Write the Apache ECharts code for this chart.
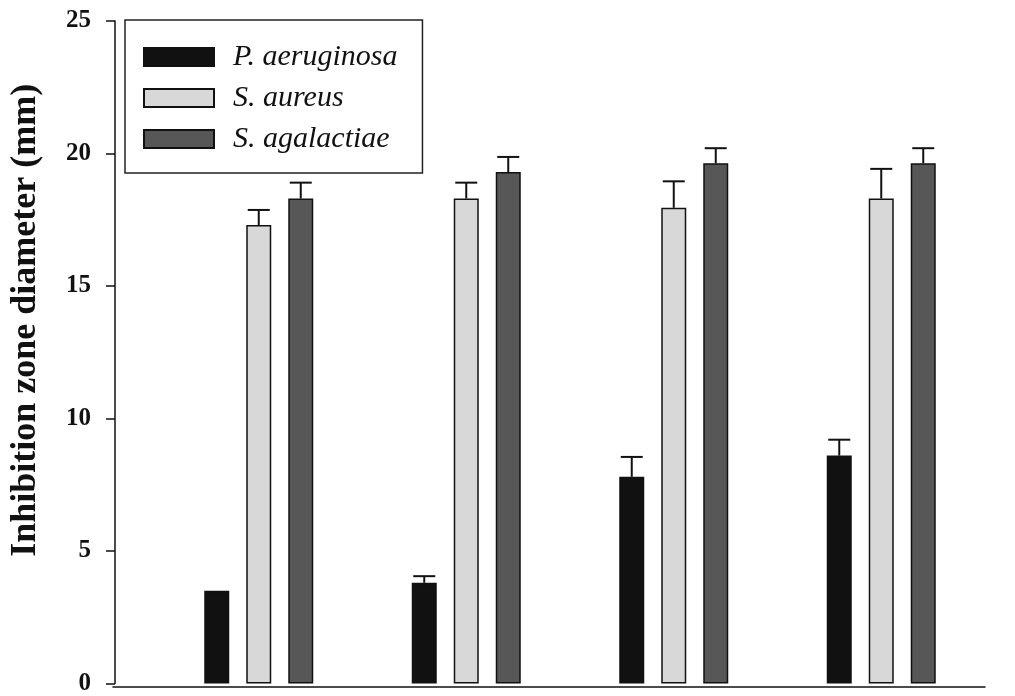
<!DOCTYPE html>
<html>
<head>
<meta charset="utf-8">
<script src="https://cdn.jsdelivr.net/npm/echarts@6/dist/echarts.min.js"></script>
<style>
  html, body { margin: 0; padding: 0; background: #fff; }
  #main { width: 1015px; height: 696px; }
</style>
</head>
<body>
<div id="main"></div>
<script>
// four sample groups (no x labels in the original)
const groups = ['1', '2', '3', '4']
const seriesNames = ['P. aeruginosa', 'S. aureus', 'S. agalactiae']

// mean inhibition zone diameter (mm)
const paeruginosa = [3.5, 3.8, 7.8, 8.6]
const saureus = [17.3, 18.3, 17.95, 18.3]
const sagalactiae = [18.3, 19.3, 19.63, 19.63]

// upper error (SD)
const paeruginosaErr = [0, 0.25, 0.75, 0.6]
const saureusErr = [0.57, 0.6, 1.0, 1.12]
const sagalactiaeErr = [0.6, 0.57, 0.57, 0.57]

const yTicks = [0, 5, 10, 15, 20, 25]

const BAR_W = 25
const BAR_GAP = 17
const serif = '"Liberation Serif", "DejaVu Serif", serif'

const chart = echarts.init(document.getElementById('main'))

const fills = ['#111111', '#d8d8d8', '#575757']
const values = [paeruginosa, saureus, sagalactiae]
const errs = [paeruginosaErr, saureusErr, sagalactiaeErr]

function errSeries(k) {
  const off = (k - 1) * (BAR_W + BAR_GAP)
  return {
    type: 'custom',
    name: 'err' + k,
    xAxisIndex: 0,
    yAxisIndex: 0,
    z: 5,
    silent: true,
    encode: { x: 0, y: [1, 2] },
    data: values[k].map((v, i) => [i, v, v + errs[k][i]]),
    renderItem: function (params, api) {
      if (api.value(2) - api.value(1) <= 0) return null
      const a = api.coord([api.value(0), api.value(1)])
      const b = api.coord([api.value(0), api.value(2)])
      const x = a[0] + off
      const style = { stroke: '#111', lineWidth: 2 }
      return {
        type: 'group',
        children: [
          { type: 'line', shape: { x1: x, y1: a[1], x2: x, y2: b[1] }, style: style },
          { type: 'line', shape: { x1: x - 11, y1: b[1], x2: x + 11, y2: b[1] }, style: style }
        ]
      }
    }
  }
}

const barSeries = seriesNames.map((n, k) => ({
  type: 'bar',
  name: n,
  xAxisIndex: 0,
  yAxisIndex: 0,
  barWidth: BAR_W,
  barGap: (BAR_GAP / BAR_W * 100) + '%',
  itemStyle: { color: fills[k], borderColor: '#111', borderWidth: 1.5 },
  data: values[k]
}))

chart.setOption({
  animation: false,
  backgroundColor: '#fff',
  legend: {
    data: seriesNames,
    orient: 'vertical',
    left: 125,
    top: 20,
    padding: [22, 25, 19, 18],
    itemWidth: 70,
    itemHeight: 18,
    itemGap: 11,
    icon: 'rect',
    borderColor: '#222',
    borderWidth: 1.5,
    borderRadius: 0,
    textStyle: {
      fontFamily: serif,
      fontStyle: 'italic',
      fontSize: 30,
      lineHeight: 30,
      color: '#111',
      padding: [0, 0, 0, 14]
    }
  },
  grid: [
    { left: 153, right: 30, top: 21, bottom: 9 },
    { left: 113, right: 30, top: 21, bottom: 9 }
  ],
  xAxis: [
    {
      type: 'category',
      gridIndex: 0,
      data: groups,
      axisLine: { show: false },
      axisTick: { show: false },
      axisLabel: { show: false }
    },
    {
      type: 'value',
      gridIndex: 1,
      min: 0,
      max: 1,
      axisLine: { show: true, lineStyle: { color: '#111', width: 1.5 } },
      axisTick: { show: false },
      axisLabel: { show: false },
      splitLine: { show: false }
    }
  ],
  yAxis: [
    {
      type: 'value',
      gridIndex: 0,
      min: yTicks[0],
      max: yTicks[yTicks.length - 1],
      interval: 5,
      offset: 40,
      name: 'Inhibition zone diameter (mm)',
      nameLocation: 'middle',
      nameGap: 71,
      nameTextStyle: {
        fontFamily: serif,
        fontWeight: 'bold',
        fontSize: 36,
        color: '#111',
        padding: [0, 0, 0, 64]
      },
      axisLine: { show: true, lineStyle: { color: '#111', width: 1.5 } },
      axisTick: { show: true, length: 9, lineStyle: { color: '#111', width: 1.5 } },
      axisLabel: {
        margin: 24,
        fontFamily: serif,
        fontWeight: 'bold',
        fontSize: 25,
        color: '#111'
      },
      splitLine: { show: false }
    },
    {
      type: 'value',
      gridIndex: 1,
      show: false,
      min: 0,
      max: 1
    }
  ],
  series: barSeries.concat([errSeries(0), errSeries(1), errSeries(2)])
})
</script>
</body>
</html>
